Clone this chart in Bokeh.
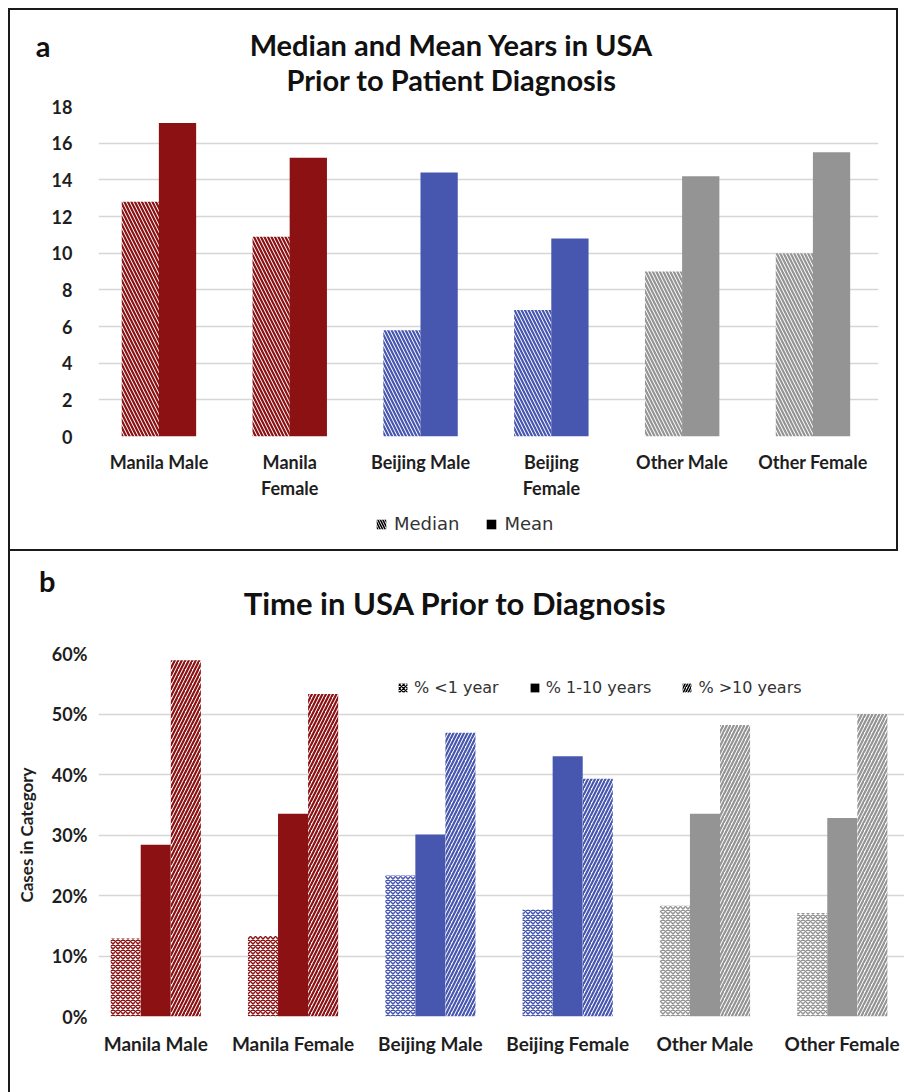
from bokeh.plotting import figure
from bokeh.models import (ColumnDataSource, FixedTicker, Legend, LegendItem,
                          Range1d, NumeralTickFormatter)
from bokeh.transform import dodge
from bokeh.layouts import column
from bokeh.core.properties import value
from bokeh.embed import file_html
from bokeh.resources import INLINE

# ---- data -------------------------------------------------------------
categories = ["Manila Male", "Manila Female", "Beijing Male",
              "Beijing Female", "Other Male", "Other Female"]
labels_a = ["Manila Male", "Manila\nFemale", "Beijing Male",
            "Beijing\nFemale", "Other Male", "Other Female"]
median_years = [12.8, 10.9, 5.8, 6.9, 9.0, 10.0]
mean_years = [17.1, 15.2, 14.4, 10.8, 14.2, 15.5]
years_ticks = [0, 2, 4, 6, 8, 10, 12, 14, 16, 18]

pct_under_1 = [0.129, 0.133, 0.233, 0.177, 0.183, 0.171]
pct_1_to_10 = [0.284, 0.335, 0.301, 0.430, 0.335, 0.328]
pct_over_10 = [0.589, 0.533, 0.469, 0.393, 0.482, 0.500]
pct_ticks = [0.0, 0.1, 0.2, 0.3, 0.4, 0.5, 0.6]

group_colors = ["#8B1113", "#8B1113", "#4757B0", "#4757B0", "#949494", "#949494"]

# ---- shared styling ----------------------------------------------------
BOLD_FONT = "Lato"
LEGEND_FONT = "DejaVu Sans"
GRID = "#D6D6D6"
BORDER = "2px solid #1a1a1a"
INK = "#1e1e1e"

src = ColumnDataSource(dict(
    idx=list(range(len(categories))), cat=categories, color=group_colors,
    median=median_years, mean=mean_years,
    under1=pct_under_1, mid=pct_1_to_10, over10=pct_over_10,
))


def swatch_source():
    # a single row far outside the visible range, only used by legend swatches
    return ColumnDataSource(dict(x=[-50], top=[0]))


def bare(p):
    p.outline_line_color = None
    p.grid.grid_line_color = None
    return p


def plain_axis(ax, size, stand):
    ax.axis_line_color = None
    ax.major_tick_line_color = None
    ax.minor_tick_line_color = None
    ax.major_tick_out = 0
    ax.major_tick_in = 0
    ax.minor_tick_out = 0
    ax.minor_tick_in = 0
    ax.major_label_text_font = BOLD_FONT
    ax.major_label_text_font_style = "bold"
    ax.major_label_text_font_size = size
    ax.major_label_text_color = INK
    ax.major_label_standoff = stand


def style_axes(p, ystand, xstand, xsize="18px"):
    plain_axis(p.xaxis[0], xsize, xstand)
    plain_axis(p.yaxis[0], "18px", ystand)
    p.xgrid.grid_line_color = None
    p.ygrid.grid_line_color = GRID
    p.ygrid.grid_line_width = 1.6
    p.outline_line_color = None


def header(width, height, top, frame, borders, letter, letter_y, letter_stand,
           xs, ys, texts, size):
    """Title strip: page-pixel data space, panel letter drawn as the lone y tick."""
    h = figure(width=width, height=height, x_range=Range1d(*frame),
               y_range=Range1d(top + height, top), x_axis_type=None,
               output_backend="svg", toolbar_location=None,
               min_border_left=borders[0], min_border_right=borders[1],
               min_border_top=0, min_border_bottom=0)
    bare(h)
    ax = h.yaxis[0]
    ax.ticker = FixedTicker(ticks=[letter_y])
    ax.major_label_overrides = {letter_y: letter}
    plain_axis(ax, "29px", letter_stand)
    ax.major_label_text_color = "#111111"
    h.text(x=xs, y=ys, text=texts, text_font=value(BOLD_FONT), text_font_style="bold",
           text_font_size=size, text_align="center", text_baseline="middle",
           text_color="#111111")
    return h


# ---- panel a: median / mean years -------------------------------------
A_BORDERS = (88, 18)
head_a = header(886, 87, 10, (98, 878), A_BORDERS, "a", 45, 48,
                [451, 451], [44, 79],
                ["Median and Mean Years in USA", "Prior to Patient Diagnosis"], "29px")

pa = figure(width=886, height=408, x_range=Range1d(-0.462, 5.501), y_range=Range1d(0, 18),
            output_backend="svg", toolbar_location=None,
            min_border_left=A_BORDERS[0], min_border_right=A_BORDERS[1],
            min_border_top=9, min_border_bottom=69)

pa.vbar(x=dodge("idx", -0.142, range=pa.x_range), top="median", width=0.285, source=src,
        fill_color="white", line_color=None, hatch_color="color",
        hatch_pattern="\\", hatch_scale=7, hatch_weight=2.2)
pa.vbar(x=dodge("idx", 0.142, range=pa.x_range), top="mean", width=0.285, source=src,
        fill_color="color", line_color=None)

pa.yaxis.ticker = FixedTicker(ticks=years_ticks)
pa.xaxis.ticker = FixedTicker(ticks=list(range(len(categories))))
pa.xaxis.major_label_overrides = {i: t for i, t in enumerate(labels_a)}
style_axes(pa, ystand=26, xstand=14)

foot_a = bare(figure(width=886, height=44, x_range=Range1d(0, 1), y_range=Range1d(0, 1),
                     x_axis_type=None, y_axis_type=None, output_backend="svg",
                     toolbar_location=None, min_border_left=A_BORDERS[0],
                     min_border_right=A_BORDERS[1], min_border_top=0, min_border_bottom=0))
sw_a = swatch_source()
leg_median = foot_a.vbar(x="x", top="top", width=0.3, source=sw_a, fill_color="white",
                         line_color=None, hatch_color="black", hatch_pattern="\\",
                         hatch_scale=5, hatch_weight=1.6)
leg_mean = foot_a.vbar(x="x", top="top", width=0.3, source=sw_a, fill_color="black",
                       line_color=None)
foot_a.add_layout(Legend(items=[LegendItem(label="Median", renderers=[leg_median]),
                                LegendItem(label="Mean", renderers=[leg_mean])],
                         orientation="horizontal", location=(277, 15),
                         label_text_font=LEGEND_FONT, label_text_font_size="18px",
                         label_text_color="#333333", glyph_width=12, glyph_height=12,
                         label_standoff=7, spacing=26, padding=0, margin=0,
                         border_line_color=None, background_fill_alpha=0))

panel_a = column(head_a, pa, foot_a, spacing=0,
                 styles={"border": BORDER, "margin-left": "8px", "margin-top": "8px"})

# ---- panel b: time in USA before diagnosis -----------------------------
B_BORDERS = (88, 0)
head_b = header(894, 90, 551, (98, 904), B_BORDERS, "b", 580, 43,
                [455], [602], ["Time in USA Prior to Diagnosis"], "31px")

pb = figure(width=894, height=451, x_range=Range1d(-0.417, 5.453), y_range=Range1d(0, 0.6),
            output_backend="svg", toolbar_location=None,
            min_border_left=B_BORDERS[0], min_border_right=B_BORDERS[1],
            min_border_top=12, min_border_bottom=76)

pb.vbar(x=dodge("idx", -0.219, range=pb.x_range), top="under1", width=0.219, source=src,
        fill_color="white", line_color=None, hatch_color="color",
        hatch_pattern="x", hatch_scale=5, hatch_weight=1.5)
pb.vbar(x=dodge("idx", 0.0, range=pb.x_range), top="mid", width=0.219, source=src,
        fill_color="color", line_color=None)
pb.vbar(x=dodge("idx", 0.219, range=pb.x_range), top="over10", width=0.219, source=src,
        fill_color="white", line_color=None, hatch_color="color",
        hatch_pattern="/", hatch_scale=7, hatch_weight=2.2)

pb.yaxis.ticker = FixedTicker(ticks=pct_ticks)
pb.yaxis.formatter = NumeralTickFormatter(format="0%")
pb.xaxis.ticker = FixedTicker(ticks=list(range(len(categories))))
pb.xaxis.major_label_overrides = {i: t for i, t in enumerate(categories)}
style_axes(pb, ystand=11, xstand=15, xsize="19px")
pb.yaxis.axis_label = "Cases in Category"
pb.yaxis.axis_label_text_font = BOLD_FONT
pb.yaxis.axis_label_text_font_style = "bold"
pb.yaxis.axis_label_text_font_size = "17px"
pb.yaxis.axis_label_text_color = INK
pb.yaxis.axis_label_standoff = 12

sw_b = swatch_source()
leg_u1 = pb.vbar(x="x", top="top", width=0.2, source=sw_b, fill_color="white",
                 line_color=None, hatch_color="black", hatch_pattern="x",
                 hatch_scale=4, hatch_weight=1.3)
leg_mid = pb.vbar(x="x", top="top", width=0.2, source=sw_b, fill_color="black",
                  line_color=None)
leg_o10 = pb.vbar(x="x", top="top", width=0.2, source=sw_b, fill_color="white",
                  line_color=None, hatch_color="black", hatch_pattern="/",
                  hatch_scale=5, hatch_weight=1.6)
pb.add_layout(Legend(items=[LegendItem(label="% <1 year", renderers=[leg_u1]),
                            LegendItem(label="% 1-10 years", renderers=[leg_mid]),
                            LegendItem(label="% >10 years", renderers=[leg_o10])],
                     orientation="horizontal", location=(299, 319),
                     label_text_font=LEGEND_FONT, label_text_font_size="16px",
                     label_text_color="#333333", glyph_width=11, glyph_height=11,
                     label_standoff=6, spacing=30, padding=0, margin=0,
                     border_line_color=None, background_fill_alpha=0))

panel_b = column(head_b, pb, spacing=0,
                 styles={"border-left": BORDER, "margin-left": "8px"})

page = column(panel_a, panel_b, spacing=0)
open("out.html", "w").write(file_html(page, INLINE))
